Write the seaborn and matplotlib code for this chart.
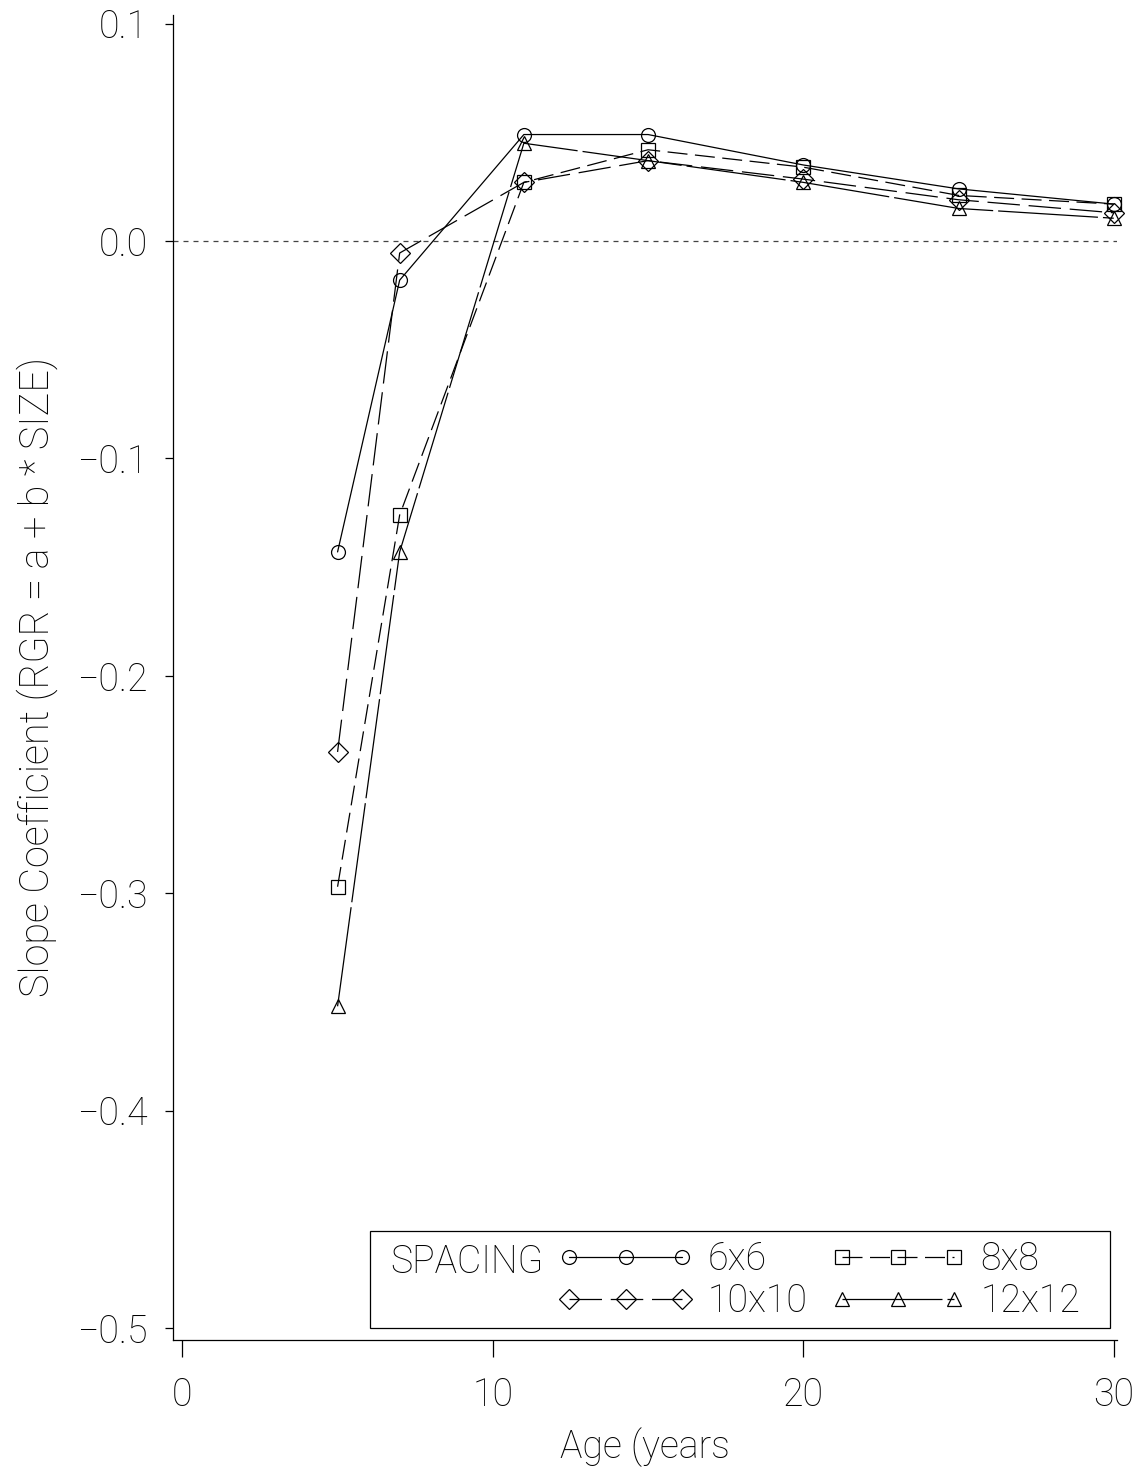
import matplotlib
matplotlib.use("Agg")
import matplotlib.pyplot as plt
import seaborn as sns
import pandas as pd
from matplotlib.patches import Rectangle

ages = [5, 7, 11, 15, 20, 25, 30]
s6x6 = [-0.143, -0.018, 0.049, 0.049, 0.035, 0.024, 0.017]
s8x8 = [-0.297, -0.126, 0.027, 0.042, 0.034, 0.021, 0.017]
s10x10 = [-0.235, -0.0055, 0.027, 0.037, 0.0285, 0.019, 0.013]
s12x12 = [-0.352, -0.143, 0.045, 0.037, 0.027, 0.015, 0.0105]
spacings = ["6x6", "8x8", "10x10", "12x12"]
yticks = [-0.5, -0.4, -0.3, -0.2, -0.1, 0.0, 0.1]
xticks = [0, 10, 20, 30]

df = pd.DataFrame({
    "Age": ages * 4,
    "Slope": s6x6 + s8x8 + s10x10 + s12x12,
    "Spacing": sum([[s] * len(ages) for s in spacings], []),
})

sns.set_theme(style="ticks")
plt.rcParams["font.family"] = ["Roboto", "DejaVu Sans"]
plt.rcParams["font.weight"] = "light"
plt.rcParams["axes.labelweight"] = "light"
plt.rcParams["text.color"] = "black"
FS = 27

fig = plt.figure(figsize=(11.42, 14.68), dpi=100)
ax = fig.add_axes([0.1515, 0.0872, 0.8265, 0.9026])

markers = {"6x6": "o", "8x8": "s", "10x10": "D", "12x12": "^"}
dashes = {"6x6": "", "8x8": (16, 6), "10x10": (26, 7), "12x12": (80, 4)}

sns.lineplot(data=df, x="Age", y="Slope", hue="Spacing", style="Spacing",
             hue_order=spacings, style_order=spacings,
             palette=["black"] * 4, markers=markers, dashes=dashes,
             linewidth=0.9, markersize=10, markerfacecolor="none",
             markeredgecolor="black", markeredgewidth=0.9, ax=ax, clip_on=False)

ax.axhline(0.0, color="#444444", linewidth=0.9, linestyle=(0, (4, 4)), zorder=0)

ax.set_xlim(-0.3, 30.1)
ax.set_ylim(-0.5055, 0.104)
ax.set_xticks(xticks)
ax.set_xticklabels([str(t) for t in xticks])
ax.set_yticks(yticks)
ax.set_yticklabels([("\u2212" if t < 0 else "") + f"{abs(t):.1f}" for t in yticks])
ax.tick_params(axis="y", length=6, width=0.9, pad=12, labelsize=FS, colors="black")
ax.tick_params(axis="x", length=12, width=0.9, pad=14, labelsize=FS, colors="black")
for s in ["top", "right"]:
    ax.spines[s].set_visible(False)
for s in ["left", "bottom"]:
    ax.spines[s].set_linewidth(0.9)
    ax.spines[s].set_color("black")

ax.set_xlabel("Age (years", fontsize=FS, labelpad=10, color="black", fontweight="light")
ax.set_ylabel("Slope Coefficient (RGR = a + b * SIZE)", fontsize=28.5, labelpad=14,
              color="black", fontweight="light")

# legend
handles, labels = ax.get_legend_handles_labels()
hl = dict(zip(labels, handles))
order = ["6x6", "10x10", "8x8", "12x12"]
leg = ax.legend([hl[k] for k in order], order, ncol=2, numpoints=3, frameon=False,
                fontsize=FS, handlelength=3.6, handletextpad=0.4, columnspacing=0.6,
                labelspacing=0.1, loc="lower left", bbox_to_anchor=(0.392, 0.004),
                borderaxespad=0)
for t in leg.get_texts():
    t.set_color("black")
ax.add_patch(Rectangle((0.2087, 0.0091), 0.7839, 0.0732, transform=ax.transAxes,
                       fill=False, edgecolor="black", linewidth=0.9, zorder=5))
ax.text(0.2305, 0.0585, "SPACING", transform=ax.transAxes, fontsize=FS,
        va="center", ha="left", color="black")

fig.savefig("out.png", dpi=100)
